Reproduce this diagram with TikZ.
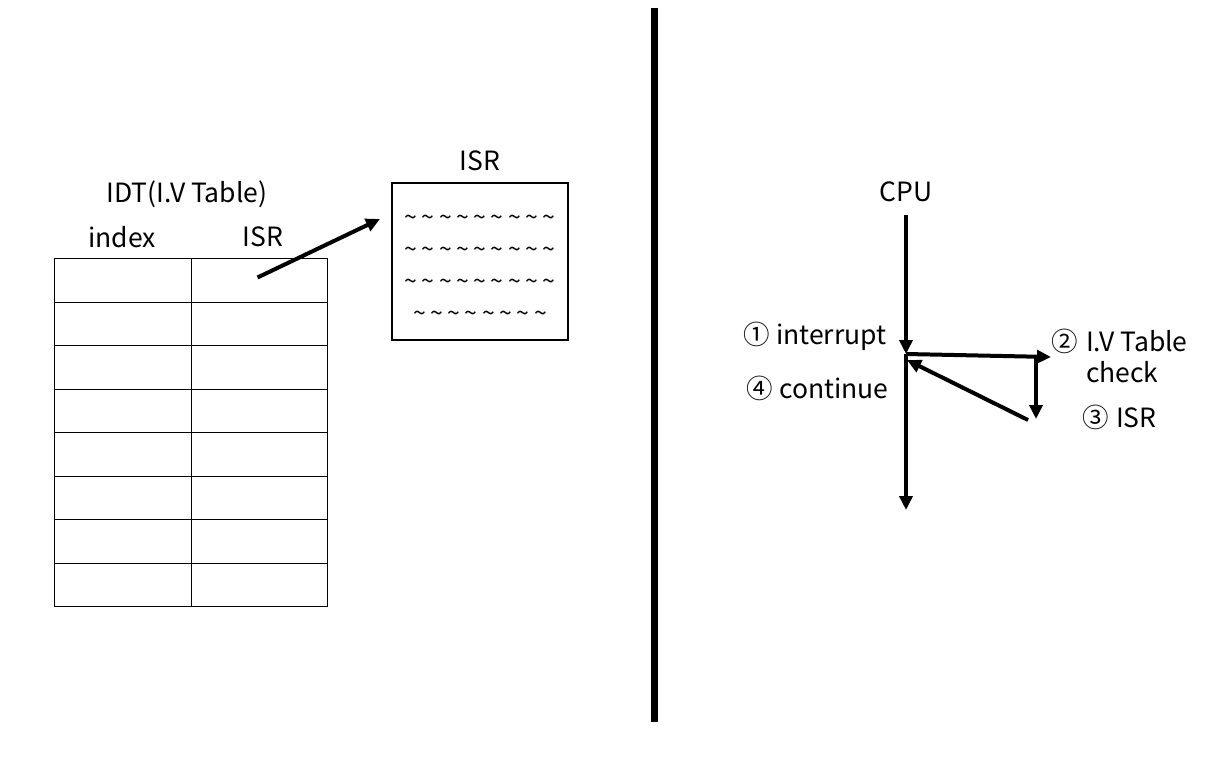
\documentclass[tikz,border=0pt]{standalone}
\usepackage{fontspec}
\setmainfont{Noto Sans CJK KR}
\usetikzlibrary{positioning,calc,arrows.meta}
\newcommand{\tilderow}[1]{\textasciitilde\foreach \k in {2,...,#1}{\hspace{4.5pt}\textasciitilde}}

\begin{document}
\begin{tikzpicture}[x=1pt,y=-1pt,font=\fontsize{26.5}{31}\selectfont,
    cell/.style={draw, line width=1.3pt, minimum width=136.5pt, minimum height=43.5pt, inner sep=0pt, outer sep=0pt},
    flow/.style={line width=4pt, -{Triangle[length=14pt,width=13pt]}}]
    \useasboundingbox (0,0) rectangle (1223,758);
    \fill[white] (0,0) rectangle (1223,758);

    % IDT table
    \node (idx1) [cell] at (123,280.5) {};
    \node (isr1) [cell, right=0pt of idx1] {};
    \foreach \i [count=\j from 1] in {2,...,8} {
        \node (idx\i) [cell, below=0pt of idx\j] {};
        \node (isr\i) [cell, right=0pt of idx\i] {};
    }
    \node (hidx) at (122,237) {index};
    \node (hisr) at (263,237) {ISR};
    \node (idt) at (187,194) {IDT(I.V Table)};

    % ISR routine box
    \node (isrbox) [draw, line width=1.5pt, minimum width=176pt, minimum height=157pt] at (480,261.5) {};
    \node (isrcode) [align=center, font=\fontsize{23}{32}\selectfont] at ($(isrbox.center)+(0,7)$)
        {\tilderow{9}\\\tilderow{9}\\\tilderow{9}\\\tilderow{8}};
    \node (isrtitle) at (480,161) {ISR};
    \coordinate (isrin) at (380,219);
    \draw[flow] ($(isr1.center)+(-2,-3)$) -- (isrin);

    % divider
    \draw[line width=7pt] (654,8) -- (654,722);

    % CPU flow
    \node (cpu) at (906,192) {CPU};
    \coordinate (cputop) at (906,215);
    \coordinate (intr) at (906,354);
    \coordinate (cpubot) at (906,510);
    \coordinate (ivt) at (1051,357);
    \coordinate (ivtdn) at (1036,357);
    \coordinate (isrdn) at (1036,419);
    \coordinate (retfrom) at (1028,420);
    \coordinate (retto) at (907,360);
    \draw[flow] (cputop) -- (intr);
    \draw[flow] (intr) -- (cpubot);
    \draw[flow] (intr) -- (ivt);
    \draw[flow] (ivtdn) -- (isrdn);
    \draw[flow] (retfrom) -- (retto);

    \node (lintr) [anchor=east] at (890,336) {①\hspace{6pt}interrupt};
    \node (lcont) [anchor=east] at (892,388) {④\hspace{6pt}continue};
    \node (livt) [anchor=west, align=left] at (1048,357) {②\hspace{8pt}I.V Table\\\phantom{②\hspace{8pt}}check};
    \node (lisr) [anchor=west] at (1079,417) {③\hspace{7pt}ISR};
\end{tikzpicture}
\end{document}
